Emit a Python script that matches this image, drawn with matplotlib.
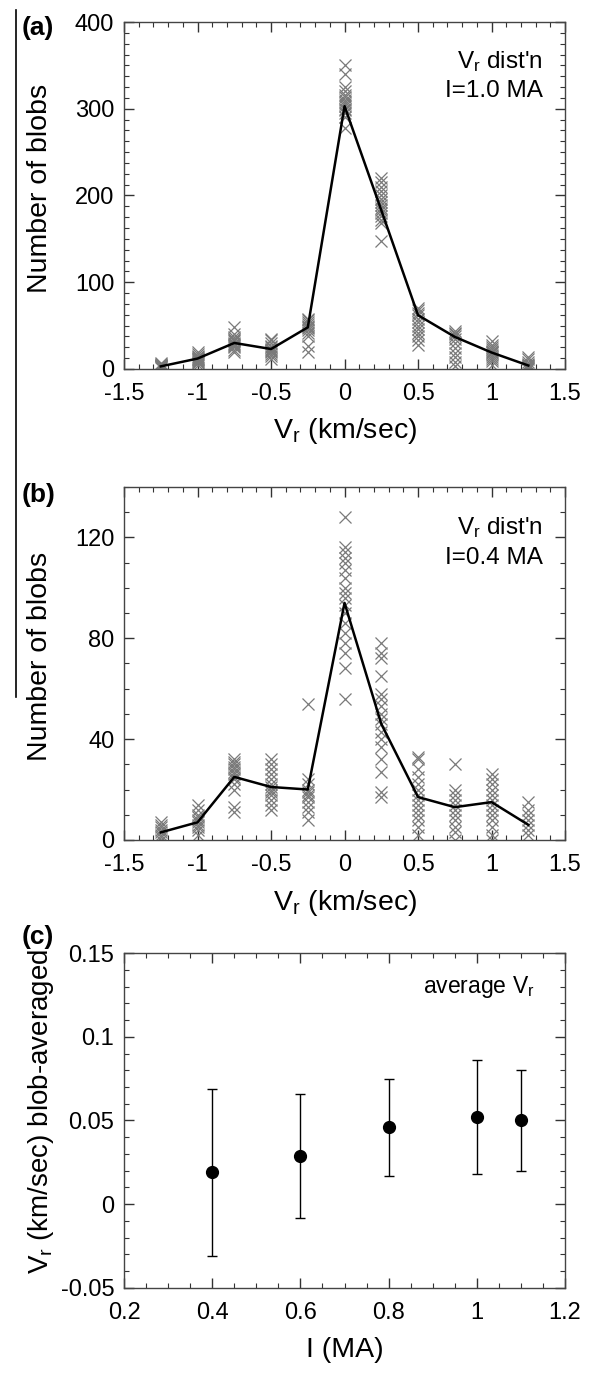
import matplotlib
matplotlib.use('Agg')
import matplotlib.pyplot as plt
from matplotlib.ticker import MultipleLocator, FuncFormatter
from matplotlib.lines import Line2D

plt.rcParams['font.family'] = ['Liberation Sans', 'DejaVu Sans']
plt.rcParams['mathtext.fontset'] = 'custom'
plt.rcParams['mathtext.rm'] = 'Liberation Sans'
plt.rcParams['mathtext.it'] = 'Liberation Sans'
plt.rcParams['axes.unicode_minus'] = False

# velocity bins (km/sec)
vr_bins = [-1.25, -1.0, -0.75, -0.5, -0.25, 0.0, 0.25, 0.5, 0.75, 1.0, 1.25]

# (a) I = 1.0 MA: averaged counts and individual samples
mean_a = [3, 12, 30, 23, 48, 303, 183, 62, 37, 19, 4]
samples_a = [
	[1, 2, 3, 3, 4, 4, 5, 5, 6, 2, 3, 7],
	[5, 7, 9, 10, 11, 12, 13, 14, 15, 17, 20, 8],
	[20, 22, 25, 27, 29, 30, 32, 33, 35, 37, 40, 48, 28],
	[12, 15, 17, 19, 21, 22, 23, 25, 27, 30, 33, 35],
	[20, 27, 38, 42, 45, 48, 50, 52, 54, 56, 58, 47],
	[278, 290, 295, 298, 300, 303, 305, 308, 310, 313, 316, 320, 325, 340, 350],
	[148, 168, 172, 176, 180, 183, 186, 189, 192, 196, 200, 205, 210, 215, 220],
	[28, 33, 38, 42, 46, 50, 54, 58, 62, 65, 68, 70],
	[3, 8, 14, 18, 24, 30, 34, 38, 40, 42, 44],
	[5, 9, 12, 14, 16, 18, 19, 21, 23, 25, 28, 32],
	[0, 1, 2, 3, 4, 5, 6, 8, 11, 14],
]

# (b) I = 0.4 MA
mean_b = [3, 7, 25, 21, 20, 94, 46, 17, 13, 15, 6]
samples_b = [
	[0, 1, 2, 3, 4, 5, 6, 7],
	[2, 4, 5, 6, 7, 8, 9, 10, 12, 14],
	[11, 13, 20, 22, 24, 25, 26, 27, 28, 29, 30, 31, 32],
	[12, 14, 16, 18, 19, 20, 21, 22, 24, 26, 28, 30, 32],
	[8, 11, 13, 15, 17, 18, 19, 20, 22, 24, 54],
	[56, 68, 74, 78, 82, 86, 90, 93, 96, 98, 100, 104, 107, 110, 112, 114, 116, 128],
	[17, 19, 27, 32, 37, 40, 43, 46, 48, 50, 53, 56, 58, 65, 72, 74, 78],
	[2, 5, 8, 10, 12, 14, 16, 18, 20, 22, 25, 28, 32, 33],
	[0, 3, 5, 8, 10, 12, 14, 16, 18, 20, 30],
	[0, 2, 5, 8, 10, 12, 14, 16, 18, 20, 22, 24, 26],
	[2, 4, 6, 8, 10, 12, 15],
]

# (c) blob-averaged Vr vs plasma current
current = [0.4, 0.6, 0.8, 1.0, 1.1]
vr_avg = [0.019, 0.029, 0.046, 0.052, 0.050]
vr_hi = [0.069, 0.066, 0.075, 0.086, 0.080]
vr_lo = [-0.031, -0.008, 0.017, 0.018, 0.020]

fmt = FuncFormatter(lambda v, p: f"{round(v, 6):g}")


def style_axes(ax):
	ax.tick_params(which='both', direction='in', top=True, right=True, labelsize=17, pad=7, color='#333333')
	ax.tick_params(axis='x', which='both', pad=10)
	ax.tick_params(which='major', length=7, width=1)
	ax.tick_params(which='minor', length=3.5, width=0.8)
	for s in ax.spines.values():
		s.set_linewidth(1)
		s.set_color('#444444')
	ax.xaxis.set_major_formatter(fmt)
	ax.yaxis.set_major_formatter(fmt)


def dist_panel(ax, means, samples, ymax, ymajor, yminor, current_label):
	for x, vals in zip(vr_bins, samples):
		ax.plot([x] * len(vals), vals, 'x', color='#7a7a7a', markersize=8, mew=0.9)
	ax.plot(vr_bins, means, color='black', lw=1.8)
	ax.set_xlim(-1.5, 1.5)
	ax.set_ylim(0, ymax)
	ax.xaxis.set_major_locator(MultipleLocator(0.5))
	ax.xaxis.set_minor_locator(MultipleLocator(0.1))
	ax.yaxis.set_major_locator(MultipleLocator(ymajor))
	ax.yaxis.set_minor_locator(MultipleLocator(yminor))
	style_axes(ax)
	ax.set_ylabel('Number of blobs', fontsize=20.5)
	ax.yaxis.set_label_coords(-0.16, 0.52)
	ax.set_xlabel('V$_\\mathrm{r}$ (km/sec)', fontsize=20.5)
	ax.xaxis.set_label_coords(0.5, -0.135)
	ax.text(0.95, 0.885, "V$_\\mathrm{r}$ dist'n", transform=ax.transAxes, ha='right', va='center', fontsize=17.5)
	ax.text(0.95, 0.80, current_label, transform=ax.transAxes, ha='right', va='center', fontsize=17.5)


fig = plt.figure(figsize=(5.92, 13.84), dpi=100)
ax_a = fig.add_axes([0.2095, 0.7334, 0.745, 0.2507])
ax_b = fig.add_axes([0.2095, 0.3931, 0.745, 0.2551])
ax_c = fig.add_axes([0.2095, 0.0694, 0.745, 0.2420])

dist_panel(ax_a, mean_a, samples_a, 400, 100, 12.5, 'I=1.0 MA')
dist_panel(ax_b, mean_b, samples_b, 140, 40, 10, 'I=0.4 MA')

err = [[v - lo for v, lo in zip(vr_avg, vr_lo)], [hi - v for v, hi in zip(vr_avg, vr_hi)]]
ax_c.errorbar(current, vr_avg, yerr=err, fmt='o', color='black', markersize=8.5, elinewidth=1, capsize=3.5, capthick=1)
ax_c.set_xlim(0.2, 1.2)
ax_c.set_ylim(-0.05, 0.15)
ax_c.xaxis.set_major_locator(MultipleLocator(0.2))
ax_c.xaxis.set_minor_locator(MultipleLocator(0.05))
ax_c.yaxis.set_major_locator(MultipleLocator(0.05))
ax_c.yaxis.set_minor_locator(MultipleLocator(0.01))
style_axes(ax_c)
ax_c.set_ylabel('V$_\\mathrm{r}$ (km/sec) blob-averaged', fontsize=20)
ax_c.yaxis.set_label_coords(-0.155, 0.527)
ax_c.set_xlabel('I (MA)', fontsize=20.5)
ax_c.xaxis.set_label_coords(0.5, -0.145)
ax_c.text(0.93, 0.90, 'average V$_\\mathrm{r}$', transform=ax_c.transAxes, ha='right', va='center', fontsize=16.5)

# panel letters
fig.text(22 / 592, 1 - 28 / 1384, '(a)', fontsize=19, fontweight='bold', va='center')
fig.text(22 / 592, 1 - 495 / 1384, '(b)', fontsize=19, fontweight='bold', va='center')
fig.text(22 / 592, 1 - 937 / 1384, '(c)', fontsize=19, fontweight='bold', va='center')

# stray vertical rule at the left edge of the scan
fig.add_artist(Line2D([16 / 592, 16 / 592], [1 - 10 / 1384, 1 - 697 / 1384], transform=fig.transFigure, color='black', lw=1.2))

fig.savefig('out.png', dpi=100)
plt.close(fig)
